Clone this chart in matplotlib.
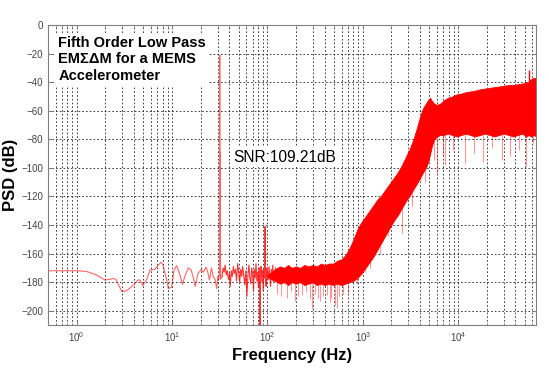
import matplotlib
matplotlib.use('Agg')
import matplotlib.pyplot as plt
from matplotlib.ticker import LogLocator
import numpy as np

plt.rcParams['font.family'] = ['Liberation Sans', 'DejaVu Sans']
plt.rcParams['mathtext.fontset'] = 'custom'
plt.rcParams['mathtext.rm'] = 'Liberation Sans'

# sparse low frequency part of the spectrum (Hz, dB)
line_freq = [0.5, 0.7, 1.0, 1.27, 1.62, 1.98, 2.24, 2.42, 2.6, 2.97, 3.35, 3.93,
             4.43, 4.65, 4.92, 5.42, 5.88, 6.6, 7.2, 7.65, 8.0, 8.8, 9.15, 9.9,
             10.5, 11.2, 12.1, 12.9, 13.6, 14.8, 15.9, 16.8, 17.5, 18.7, 20.3,
             21.3, 22.8, 23.7, 24.7, 25.9, 27.0, 28.3, 29.4, 30.2, 31.0, 31.5,
             31.66, 31.8, 32.0, 32.3, 33.5, 34.3, 35.2, 36.0, 37.0, 38.0, 39.0,
             40.0, 40.8, 41.8, 42.8, 44.0, 45.0, 46.2, 47.5, 48.8, 50.0, 51.2,
             52.5, 53.8, 55.0, 56.5, 58.0, 59.5, 61.0, 62.5, 64.0, 65.5, 67.0,
             68.5, 70.0, 71.5, 73.0, 74.5, 76.0, 77.5, 79.0, 80.5, 82.0, 83.2,
             83.8, 84.5, 86.0, 87.5, 89.0, 90.5, 92.0, 93.5, 94.6, 95.6, 97.0,
             98.5, 100.0, 102.0, 104.0, 106.0, 108.0, 110.0, 112.0, 114.0, 116.0,
             118.0, 120.0, 122.0, 124.0]
line_psd = [-172, -172, -172, -172.5, -175, -178.5, -178, -177.3, -178.5, -186.5,
            -186, -182, -178.3, -178.8, -182.5, -178, -171.5, -171, -168, -166,
            -167.5, -178.5, -184.5, -183.5, -171.5, -168.5, -175, -181.5, -176,
            -170, -171.5, -177.5, -183, -174, -171, -173, -169.5, -173, -178.5,
            -170, -176, -178, -184.5, -176, -178, -174, -21, -175, -89, -178,
            -176, -170, -173, -168, -175, -172, -178, -174, -183, -172, -176,
            -169, -174, -171, -179, -167, -173, -180, -171, -176, -169, -175,
            -182, -172, -190, -175, -168, -177, -181, -170, -174, -186, -171,
            -177, -167, -179, -173, -184, -170, -176, -215, -174, -169, -180,
            -172, -186, -171, -177, -141, -176, -183, -170, -175, -178, -169,
            -176, -183, -171, -177, -168, -180, -173, -176, -170, -178]

# dense part: envelope of the noise band (Hz, dB)
band_freq = [100, 110, 120, 135, 150, 165, 180, 200, 220, 245, 270, 300, 330, 365,
             400, 440, 490, 540, 600, 660, 730, 800, 880, 970, 1070, 1180, 1300,
             1430, 1580, 1740, 1920, 2120, 2340, 2580, 2850, 3140, 3400, 3700,
             4000, 4300, 4600, 4900, 5100, 5300, 5600, 6000, 6500, 7000, 7800,
             8700, 9700, 10800, 12000, 13500, 15000, 17000, 19000, 21500, 24000,
             27000, 30000, 34000, 38000, 42000, 47000, 52000, 55000, 58000,
             62000, 65536]
band_hi = [-175, -173, -171, -169, -170, -168, -170, -169, -170, -168, -169, -168,
           -169, -167, -168, -167, -167, -165, -164, -161, -156, -150, -143, -138,
           -134, -130, -126, -122, -119, -115, -111, -107, -103, -98, -92, -86,
           -80, -72, -64, -58, -55, -52, -51, -53, -55, -56, -55, -53, -51, -50,
           -48.5, -48, -47, -46.5, -46, -45, -44.5, -44, -43.5, -43, -42.5, -42,
           -42, -41.5, -41, -40, -40, -38, -37, -37]
band_lo = [-176, -178, -179, -181, -180, -182, -180, -181, -180, -182, -181, -180,
           -182, -181, -182, -181, -182, -181, -182, -181, -180, -179, -177, -174,
           -170, -166, -162, -157, -152, -147, -142, -137, -133, -128, -123, -119,
           -115, -111, -107, -103, -100, -95, -90, -85, -80, -78, -77, -77, -76,
           -77, -78, -77, -76, -77, -78, -77, -76, -77, -78, -77, -76, -77, -78,
           -77, -76, -78, -77, -78, -77, -78]

# deep dips below the band (Hz, dB)
dip_freq = [125, 140, 160, 175, 195, 210, 230, 255, 280, 292, 315, 340, 360, 387,
            420, 450, 470, 510, 535, 570, 620, 700, 867, 1060, 1197, 1500,
            1860, 1960, 2570, 3280, 4550, 5550, 6000, 7000, 7300, 8900, 11900,
            14600, 18300, 22800, 28600, 35000, 44000, 52000, 61000]
dip_psd = [-188, -190, -191, -186, -193.5, -190, -189, -187, -192, -199, -188,
           -191, -193, -190, -189, -194, -191, -196, -198, -190, -188, -188, -181,
           -173, -170, -160, -148, -141, -145.7, -127, -109.6, -94.4, -103.7,
           -92, -98, -87.4, -96.7, -89.7, -95.6, -86, -94.4, -92, -87.4, -99, -82.7]
dip_top = list(np.interp(dip_freq, band_freq, band_lo))

# tone spike near the band edge
spike_freq = [55000]
spike_psd = [-31.5]

fig = plt.figure(figsize=(5.49, 3.68), dpi=100)
ax = fig.add_axes([0.0874, 0.1168, 0.8888, 0.8152])

n_sparse = sum(f < 33 for f in line_freq)
ax.plot(line_freq[:n_sparse + 1], line_psd[:n_sparse + 1], color='red', lw=0.8, alpha=0.6)
ax.plot(line_freq[n_sparse:], line_psd[n_sparse:], color='red', lw=0.8, alpha=0.8)
ax.fill_between(band_freq, band_lo, band_hi, color='red', lw=0.6)
ax.vlines(dip_freq, dip_psd, dip_top, color='red', lw=0.8, alpha=0.4)
ax.vlines(spike_freq, [-40], spike_psd, color='red', lw=1.0)

ax.set_xscale('log')
ax.set_xlim(0.5, 65536)
ax.set_ylim(-210, 0)
ax.set_yticks(np.arange(-200, 1, 20))
ax.xaxis.set_major_locator(LogLocator(base=10, numticks=10))
ax.xaxis.set_minor_locator(LogLocator(base=10, subs=np.arange(2, 10), numticks=20))

ax.grid(which='major', axis='both', color='#222222', lw=0.6, linestyle=(0, (2, 2.5)))
ax.grid(which='minor', axis='x', color='#222222', lw=0.6, linestyle=(0, (2, 2.5)))
ax.set_axisbelow(True)

for s in ax.spines.values():
    s.set_color('#808080')
    s.set_linewidth(0.8)
ax.tick_params(which='both', direction='in', top=True, right=True,
               colors='#808080', labelcolor='#444444', labelsize=7)
ax.tick_params(which='major', length=3)
ax.tick_params(which='minor', length=1.5)

ax.set_xlabel('Frequency (Hz)', fontsize=12, fontweight='bold', labelpad=3)
ax.set_ylabel('PSD (dB)', fontsize=12, fontweight='bold', labelpad=2)

ax.text(0.64, -7.5, 'Fifth Order Low Pass\nEMΣΔM for a MEMS\nAccelerometer',
        fontsize=10.5, fontweight='bold', va='top', ha='left', linespacing=1.25,
        bbox=dict(facecolor='white', edgecolor='none', pad=2))
ax.text(44, -92.5, 'SNR:109.21dB', fontsize=11.2, va='center', ha='left',
        bbox=dict(facecolor='white', edgecolor='none', pad=2))

fig.savefig('out.png', dpi=100)
